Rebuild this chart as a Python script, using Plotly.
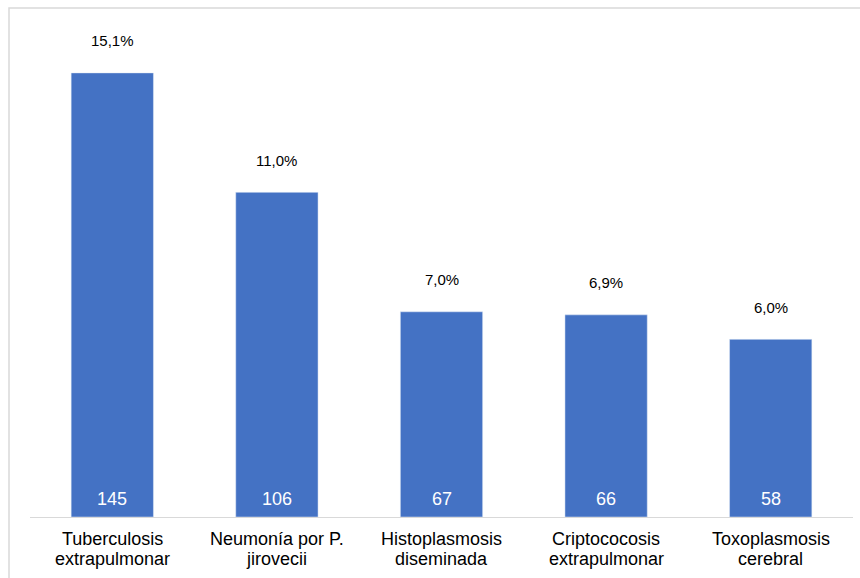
import plotly.graph_objects as go

categories = ["Tuberculosis<br>extrapulmonar", "Neumonía por P.<br>jirovecii", "Histoplasmosis<br>diseminada",
              "Criptococosis<br>extrapulmonar", "Toxoplasmosis<br>cerebral"]
counts = [145, 106, 67, 66, 58]
percents = ["15,1%", "11,0%", "7,0%", "6,9%", "6,0%"]

W, H = 860, 578
ml, mr, mt, mb = 30, 7, 30, 61
pw, ph = W - ml - mr, H - mt - mb
FONT = "Liberation Sans, Arial"

fig = go.Figure()
fig.add_trace(go.Bar(x=categories, y=counts, marker_color="#4472C4", width=0.5, hoverinfo="skip"))

for c, v, p in zip(categories, counts, percents):
    fig.add_annotation(x=c, y=v, text=p, showarrow=False, yanchor="middle", yshift=32,
                       font=dict(family=FONT, size=15, color="#000000"))
    fig.add_annotation(x=c, y=0, text=str(v), showarrow=False, yanchor="bottom", yshift=6,
                       font=dict(family=FONT, size=18, color="#ffffff"))
    for i, line in enumerate(c.split("<br>")):
        fig.add_annotation(x=c, xref="x", yref="paper", y=0, text=line, showarrow=False,
                           yanchor="middle", yshift=-(22 + 20 * i),
                           font=dict(family=FONT, size=18, color="#000000"))

# outer border
fig.add_shape(type="rect", xref="paper", yref="paper",
              x0=(9 - ml) / pw, x1=1.5, y0=-1, y1=(H - mb - 8) / ph,
              line=dict(color="#d9d9d9", width=1.5), fillcolor="rgba(0,0,0,0)", layer="below")

fig.update_layout(
    width=W, height=H, margin=dict(l=ml, r=mr, t=mt, b=mb),
    paper_bgcolor="white", plot_bgcolor="white", showlegend=False,
    xaxis=dict(showline=True, linecolor="#d9d9d9", linewidth=1, ticks="", showgrid=False,
               showticklabels=False),
    yaxis=dict(range=[0, 159], visible=False, showgrid=False),
)
fig.write_html("out.html")
